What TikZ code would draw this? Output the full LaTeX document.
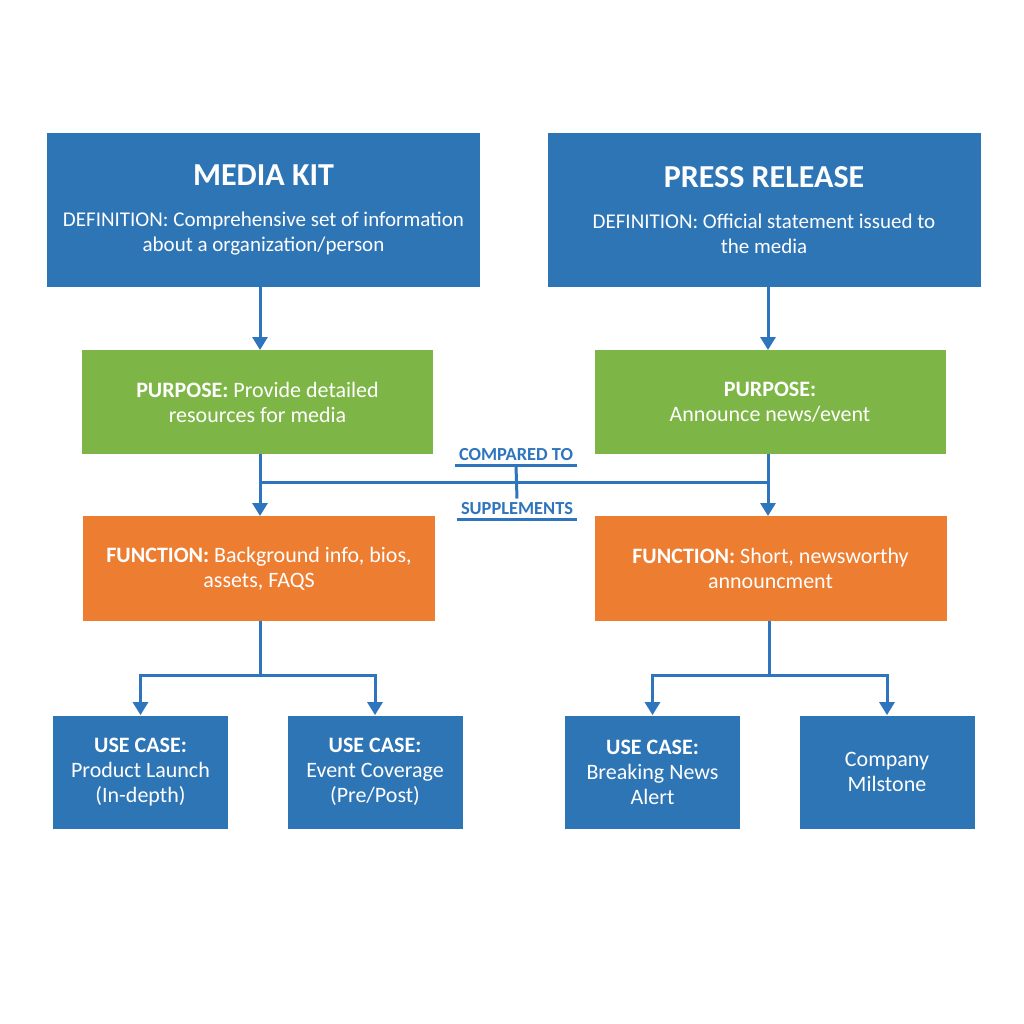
\documentclass[tikz,border=0pt]{standalone}
\usepackage{fontspec}
\setmainfont{Carlito}
\usetikzlibrary{arrows.meta}
\definecolor{boxblue}{RGB}{46,117,182}
\definecolor{boxgreen}{RGB}{125,182,70}
\definecolor{boxorange}{RGB}{237,125,49}
\definecolor{lineblue}{RGB}{46,117,190}
\begin{document}
\begin{tikzpicture}[x=0.5pt,y=-0.5pt]
\tikzstyle{box}=[shape=rectangle,text=white,align=center,inner sep=0pt,font=\fontsize{11}{12.5}\selectfont]
\tikzstyle{head}=[box,fill=boxblue,minimum width=216.5pt,minimum height=77pt,font=\fontsize{10.5}{12.5}\selectfont]
\tikzstyle{purp}=[box,fill=boxgreen,minimum width=175.5pt,minimum height=52pt]
\tikzstyle{func}=[box,fill=boxorange,minimum width=176pt,minimum height=52.5pt]
\tikzstyle{usecase}=[box,fill=boxblue,minimum width=87.5pt,minimum height=56.5pt]
\tikzstyle{arr}=[draw=lineblue,line width=1.5pt,-{Triangle[width=7.5pt,length=6.5pt]}]
\tikzstyle{conn}=[draw=lineblue,line width=1.5pt]
\tikzstyle{rel}=[text=lineblue,font=\fontsize{9.2}{10}\selectfont\bfseries,inner sep=2pt]
\useasboundingbox[fill=white] (0,0) rectangle (1024,1024);

\path (263.5,210) node[head](mk){{\fontsize{16}{18}\selectfont\bfseries MEDIA KIT}\\[8pt]DEFINITION: Comprehensive set of information\\about a organization/person}
      (764,210) node[head](pr){{\fontsize{16}{18}\selectfont\bfseries PRESS RELEASE}\\[8pt]DEFINITION: Official statement issued to\\the media};
\path (257.5,402) node[purp](mkp){\textbf{PURPOSE:} Provide detailed\\resources for media}
      (770,402) node[purp](prp){\textbf{PURPOSE:}\\Announce news/event};
\path (259,568.5) node[func](mkf){\textbf{FUNCTION:} Background info, bios,\\assets, FAQS}
      (770.5,568.5) node[func](prf){\textbf{FUNCTION:} Short, newsworthy\\announcment};
\path (140.5,772) node[usecase](u1){\textbf{USE CASE:}\\Product Launch\\(In-depth)}
      (375,772) node[usecase](u2){\textbf{USE CASE:}\\Event Coverage\\(Pre/Post)}
      (652.5,772) node[usecase](u3){\textbf{USE CASE:}\\Breaking News\\Alert}
      (887,772) node[usecase](u4){Company\\Milstone};

% definitions down to purposes
\draw[arr] (260,287) -- (260,350);
\draw[arr] (768,287) -- (768,350);

% compared to / supplements
\path (516,455) node[rel](cmp){COMPARED TO} (517,509) node[rel](sup){SUPPLEMENTS};
\draw[conn] (cmp.south west) -- (cmp.south east);
\draw[conn] (sup.south west) -- (sup.south east);
\coordinate (jl) at (260,482);
\coordinate (jr) at (768,482);
\draw[arr] (260,454) -- (260,516);
\draw[arr] (768,454) -- (768,516);
\draw[conn] (jl) -- (jr);
\draw[conn] (cmp.south) -- (sup.north);

% functions down to use cases
\coordinate (fl) at (260,675);
\coordinate (fr) at (769,675);
\draw[conn] (260,621) -- (fl);
\draw[arr] (fl) -| (u1.north);
\draw[arr] (fl) -| (u2.north);
\draw[conn] (769,621) -- (fr);
\draw[arr] (fr) -| (u3.north);
\draw[arr] (fr) -| (u4.north);
\end{tikzpicture}
\end{document}
